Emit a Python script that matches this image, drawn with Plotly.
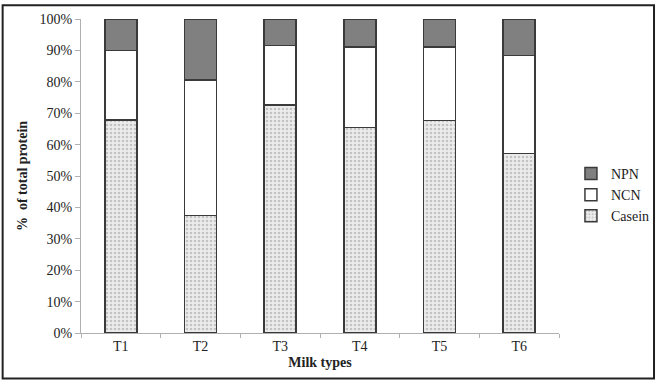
import plotly.graph_objects as go

categories = ["T1", "T2", "T3", "T4", "T5", "T6"]
casein = [67.8, 37.5, 72.6, 65.4, 67.7, 57.2]
ncn = [22.2, 43.1, 18.9, 25.7, 23.4, 31.2]
npn = [10.0, 19.4, 8.5, 8.9, 8.9, 11.6]
y_ticks = [0, 10, 20, 30, 40, 50, 60, 70, 80, 90, 100]
y_tick_labels = [f"{v}%" for v in y_ticks]

W, H = 667, 380
ML, MR, MT, MB = 81, 98, 15, 47
PW, PH = W - ML - MR, H - MT - MB

line = dict(color="#3a3a3a", width=1.5)
fig = go.Figure()
fig.add_trace(go.Bar(
    x=categories, y=casein, name="Casein",
    marker=dict(color="#e6e6e6", line=line,
                pattern=dict(shape=".", fgcolor="#9a9a9a", bgcolor="#ececec",
                             size=4, solidity=0.35)),
))
fig.add_trace(go.Bar(
    x=categories, y=ncn, name="NCN",
    marker=dict(color="#ffffff", line=line),
))
fig.add_trace(go.Bar(
    x=categories, y=npn, name="NPN",
    marker=dict(color="#808080", line=line),
))

fam = "Liberation Serif, Times New Roman, serif"
font = dict(family=fam, size=14, color="#222")
fig.update_layout(
    width=W, height=H,
    margin=dict(l=ML, r=MR, t=MT, b=MB, pad=0),
    barmode="stack", bargap=0.6,
    plot_bgcolor="white", paper_bgcolor="white",
    font=font,
    showlegend=True,
    legend=dict(traceorder="reversed", x=1.025, y=0.44, xanchor="left", yanchor="middle",
                font=dict(family=fam, size=14, color="#222"),
                itemwidth=30, tracegroupgap=2, bgcolor="rgba(0,0,0,0)"),
    xaxis=dict(showline=True, linecolor="#b0b0b0", linewidth=1,
               ticks="outside", tickson="boundaries", ticklen=4, tickcolor="#b0b0b0",
               showgrid=False,
               title=dict(text="<b>Milk types</b>", standoff=4,
                          font=dict(family=fam, size=14, color="#222"))),
    yaxis=dict(range=[0, 100], tickvals=y_ticks, ticktext=y_tick_labels,
               showline=True, linecolor="#b0b0b0", linewidth=1,
               ticks="outside", ticklen=5, tickcolor="#b0b0b0",
               showgrid=False, zeroline=False,
               title=dict(text="<b>%  of total protein</b>", standoff=8,
                          font=dict(family=fam, size=14, color="#222"))),
    shapes=[dict(type="rect", xref="paper", yref="paper",
                 x0=(1 - ML) / PW, x1=(W - 1 - ML) / PW,
                 y0=-(H - 1 - MT - PH) / PH, y1=(H - 1 - MB) / PH,
                 line=dict(color="#222", width=2), fillcolor="rgba(0,0,0,0)",
                 layer="above")],
)

fig.write_html("out.html")
